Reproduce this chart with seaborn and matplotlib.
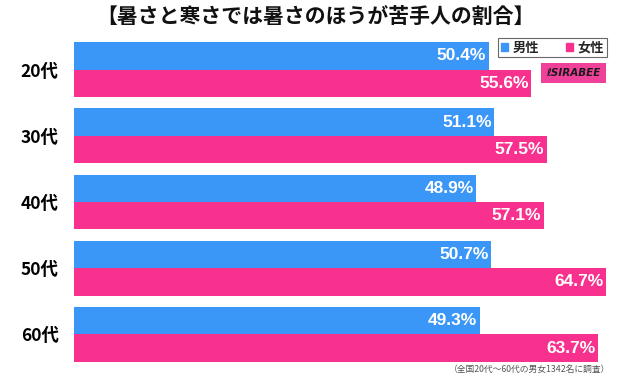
import matplotlib
matplotlib.use('Agg')
import matplotlib.pyplot as plt
import matplotlib.patches as mpatches
import pandas as pd
import seaborn as sns

# Datos
nendai = ['20代', '30代', '40代', '50代', '60代']
dansei = [50.4, 51.1, 48.9, 50.7, 49.3]
josei = [55.6, 57.5, 57.1, 64.7, 63.7]
seibetsu = ['男性', '女性']

titulo = '【暑さと寒さでは暑さのほうが苦手人の割合】'
nota = '（全国20代～60代の男女1342名に調査）'

azul = '#3b97f7'
rosa = '#f7318d'

df = pd.DataFrame({
    '年代': nendai * 2,
    '性別': ['男性'] * len(nendai) + ['女性'] * len(nendai),
    '割合': dansei + josei,
})

sns.set_theme(style='white')
plt.rcParams['font.family'] = ['Noto Sans CJK JP', 'DejaVu Sans']

fig = plt.figure(figsize=(6.21, 3.81), dpi=100)
ax = fig.add_axes([74 / 621, 1 - 367.5 / 381, 543 / 621, 331 / 381])

sns.barplot(data=df, y='年代', x='割合', hue='性別', hue_order=seibetsu,
            order=nendai, orient='h', palette=[azul, rosa], width=0.83,
            gap=0, legend=False, ax=ax, saturation=1, linewidth=0)

ax.set_xlim(0, 66)
ax.set_ylim(4.5, -0.5)
ax.set_xlabel('')
ax.set_ylabel('')
ax.set_xticks([])
ax.tick_params(axis='y', length=0, pad=11)
for lbl in ax.get_yticklabels():
    lbl.set_fontsize(12.5)
    lbl.set_fontweight('bold')
    lbl.set_color('black')
for s in ax.spines.values():
    s.set_visible(False)

# Etiquetas de valores dentro de las barras
for cont in ax.containers:
    for p in cont:
        w = p.get_width()
        ax.annotate(f'{w:.1f}%', (w, p.get_y() + p.get_height() / 2),
                    xytext=(-2, 0), textcoords='offset points',
                    ha='right', va='center', color='white', fontsize=12.5,
                    fontweight='bold', family='Liberation Sans')

# Título
fig.text(0.508, 1 - 16.5 / 381, titulo, ha='center', va='center',
         fontsize=15, fontweight='bold', color='#111111')

# Leyenda
handles = [mpatches.Patch(color=azul, label='男性'),
           mpatches.Patch(color=rosa, label='女性')]
leg = fig.legend(handles=handles, ncol=2, loc='center',
                 bbox_to_anchor=(552.5 / 621, 1 - 47.5 / 381),
                 fontsize=9.5, frameon=True, fancybox=False,
                 handlelength=0.55, handleheight=0.55, handletextpad=0.35,
                 columnspacing=2.0, borderpad=0.2, borderaxespad=0)
leg.get_frame().set_edgecolor('#444444')
leg.get_frame().set_linewidth(0.8)
for t in leg.get_texts():
    t.set_fontweight('bold')

# Logo
fig.text(573.5 / 621, 1 - 73 / 381, 'ℓSIRABEE', ha='center', va='center',
         fontsize=7.5, fontweight='bold', fontstyle='italic', color='#1a1a1a',
         family='DejaVu Sans',
         bbox=dict(boxstyle='square,pad=0.5', facecolor='#f0419a', edgecolor='none'))

# Nota al pie
fig.text(610 / 621, 1 - 369 / 381, nota, ha='right', va='center',
         fontsize=6.3, color='#555555')

fig.savefig('out.png', dpi=100)
